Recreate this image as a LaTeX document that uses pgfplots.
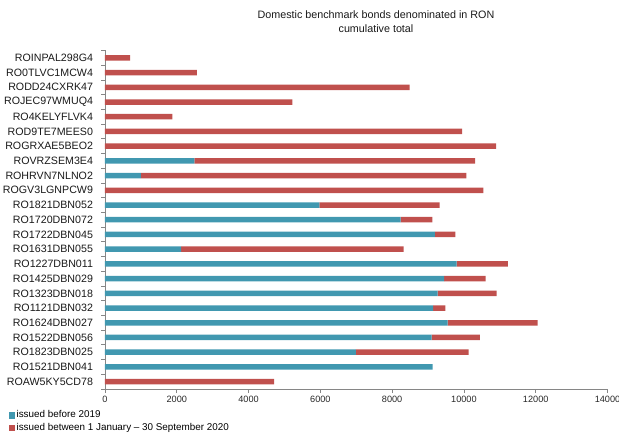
\documentclass[border=0pt]{standalone}
\usepackage{pgfplots}
\usepackage{pgfplotstable}
\pgfplotsset{compat=1.18}
\usepackage{fontspec}
\setmainfont{Liberation Sans}

\definecolor{bondblue}{RGB}{65,152,176}
\definecolor{bondred}{RGB}{192,80,77}
\definecolor{axisgray}{RGB}{134,134,134}

% y = row index from the bottom; old = issued before 2019; new = issued 1 Jan - 30 Sep 2020
\pgfplotstableread{
y old new
0 0 4715
1 9125 0
2 6990 3140
3 9100 1345
4 9545 2505
5 9145 335
6 9265 1645
7 9445 1160
8 9795 1430
9 2120 6200
10 9190 570
11 8235 885
12 5970 3350
13 0 10540
14 1000 9065
15 2490 7825
16 0 10900
17 0 9950
18 0 1875
19 0 5220
20 0 8490
21 0 2560
22 0 700
}\bonds

\begin{document}
\begin{tikzpicture}
\path[use as bounding box] (-105bp,-46bp) rectangle (514bp,389bp);
\begin{axis}[
  scale only axis,
  width=502.5bp, height=338.5bp,
  xbar stacked,
  bar width=5.5bp,
  xmin=0, xmax=14000,
  ymin=-0.5, ymax=22.5,
  xtick={0,2000,...,14000},
  ytick={0,...,22},
  yticklabels={ROAW5KY5CD78,RO1521DBN041,RO1823DBN025,RO1522DBN056,RO1624DBN027,RO1121DBN032,RO1323DBN018,RO1425DBN029,RO1227DBN011,RO1631DBN055,RO1722DBN045,RO1720DBN072,RO1821DBN052,ROGV3LGNPCW9,ROHRVN7NLNO2,ROVRZSEM3E4,ROGRXAE5BEO2,ROD9TE7MEES0,RO4KELYFLVK4,ROJEC97WMUQ4,RODD24CXRK47,RO0TLVC1MCW4,ROINPAL298G4},
  minor ytick={-0.5,0.5,...,22.5},
  axis x line*=bottom,
  axis y line*=left,
  axis line style={draw=axisgray, line width=0.8bp, -},
  x tick style={draw=axisgray, line width=0.8bp},
  ytick style={draw=none},
  minor y tick style={draw=axisgray, line width=0.8bp},
  tick align=outside,
  major tick length=4bp,
  minor tick length=3.5bp,
  /pgf/number format/assume math mode=true,
  /pgf/number format/set thousands separator={},
  scaled x ticks=false,
  xticklabel style={font=\fontsize{9.2}{10}\selectfont, text=black!85},
  yticklabel style={font=\fontsize{10.7}{12}\selectfont, text=black!90, xshift=-4.5bp},
  legend style={
    at={(-0.1924,-0.0598)}, anchor=north west,
    draw=none, fill=none, inner sep=0pt,
    font=\fontsize{9.9}{11}\selectfont,
    row sep=0pt, column sep=1.5bp,
    legend cell align=left,
    nodes={inner sep=0pt, text height=8.5bp, text depth=4bp},
  },
  legend image code/.code={\fill[#1] (0bp,-3.25bp) rectangle (6.6bp,3.25bp);},
]
\addplot[draw=none, fill=bondblue] table[x=old, y=y] {\bonds};
\addplot[draw=none, fill=bondred] table[x=new, y=y] {\bonds};
\legend{issued before 2019, issued between 1 January -- 30 September 2020}
\end{axis}
\node[align=center, font=\fontsize{10.8}{14}\selectfont, text=black!90] at (271bp,367.5bp)
  {Domestic benchmark bonds denominated in RON\\cumulative total};
\end{tikzpicture}
\end{document}
